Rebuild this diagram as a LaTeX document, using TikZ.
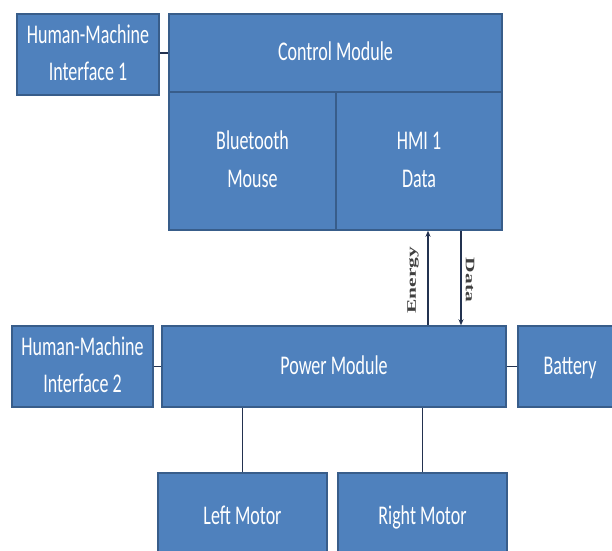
\documentclass[tikz,border=0pt]{standalone}
\usepackage{fontspec}
\setmainfont{Carlito}
\newfontfamily\labfont{Liberation Serif}
\usetikzlibrary{arrows.meta,positioning}
\definecolor{boxBlue}{RGB}{79,129,189}
\definecolor{boxEdge}{RGB}{56,93,138}
\definecolor{wireNavy}{RGB}{35,50,80}
\newcommand{\tallt}[1]{\scalebox{1}[1.5]{\begin{tabular}{@{}c@{}}#1\end{tabular}}}

\begin{document}
\begin{tikzpicture}[x=1pt, y=-1pt,
  blk/.style={draw=boxEdge, line width=1.5pt, fill=boxBlue, text=white, font=\fontsize{18}{25}\selectfont, inner sep=0pt},
  wire/.style={draw=wireNavy, line width=1.8pt},
  arr/.style={wire, -{Stealth[length=6pt,width=5pt]}},
  lab/.style={font=\labfont\bfseries\fontsize{13}{15}\selectfont, text=black!75, inner sep=1pt}
]
  \clip (0,0) rectangle (612,550);
  \fill[white] (0,0) rectangle (612,550);

  % control side
  \node[blk, minimum width=142pt, minimum height=81pt] (hmi1) at (88,54.5) {\tallt{Human-Machine\\Interface 1}};
  \node[blk, minimum width=333pt, minimum height=78pt] (ctrl) at (335.5,53) {\tallt{Control Module}};
  \node[blk, minimum width=167pt, minimum height=138pt] (btm) at (252.5,161) {\tallt{Bluetooth\\Mouse}};
  \node[blk, minimum width=166pt, minimum height=138pt] (hdat) at (419,161) {\tallt{HMI 1\\Data}};

  % power side
  \node[blk, minimum width=141pt, minimum height=81pt] (hmi2) at (82.5,366.5) {\tallt{Human-Machine\\Interface 2}};
  \node[blk, minimum width=344pt, minimum height=81pt] (pwr) at (334,366.5) {\tallt{Power Module}};
  \node[blk, minimum width=104pt, minimum height=81pt] (bat) at (570,366.5) {\tallt{Battery}};
  \node[blk, minimum width=169pt, minimum height=88pt] (lmot) at (242.5,517) {\tallt{Left Motor}};
  \node[blk, minimum width=169pt, minimum height=88pt] (rmot) at (422.5,517) {\tallt{Right Motor}};

  \draw[wire] (hmi1.east |- ctrl.west) -- (ctrl.west);
  \draw[wire] (hmi2.east) -- (pwr.west);
  \draw[wire] (pwr.east) -- (bat.west);
  \draw[wire] (lmot.north) -- (lmot.north |- pwr.south);
  \draw[wire] (rmot.north) -- (rmot.north |- pwr.south);

  % energy / data link
  \coordinate (eX) at (428,0);
  \coordinate (dX) at (461,0);
  \draw[arr] (eX |- pwr.north) -- (eX |- hdat.south);
  \draw[arr] (dX |- hdat.south) -- (dX |- pwr.north);
  \node[lab, rotate=90] (enLab) at (413,280) {\scalebox{1.65}[1]{Energy}};
  \node[lab, rotate=-90] (daLab) at (470,280) {\scalebox{1.65}[1]{Data}};
\end{tikzpicture}
\end{document}
